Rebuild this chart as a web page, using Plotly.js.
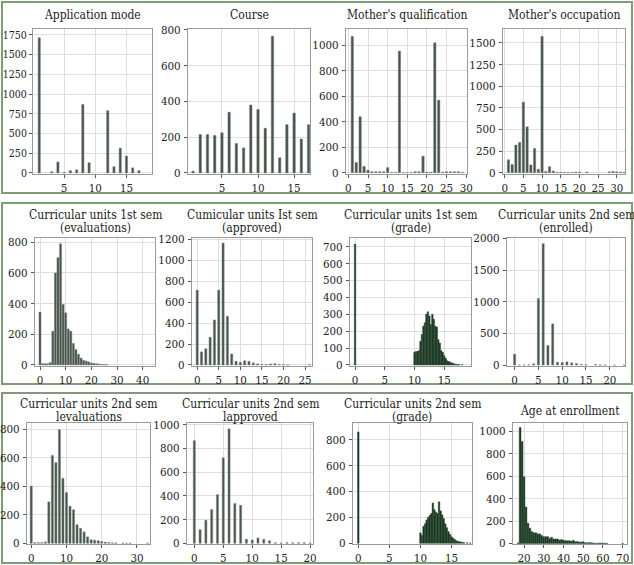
<!DOCTYPE html>
<html>
<head>
<meta charset="utf-8">
<script src="https://cdn.plot.ly/plotly-3.0.1.min.js"></script>
<style>html,body{margin:0;padding:0;background:#fff;}#chart{width:634px;height:565px;}</style>
</head>
<body>
<div id="chart"></div>
<script>
// ---------- data ----------
const appModeX = [1, 3, 4, 5, 6, 7, 8, 9, 12, 13, 14, 15, 16, 17];
const appModeCounts = [1715, 15, 140, 5, 30, 40, 870, 130, 790, 80, 315, 215, 65, 30];

const courseX = [1, 2, 3, 4, 5, 6, 7, 8, 9, 10, 11, 12, 13, 14, 15, 16, 17];
const courseCounts = [10, 215, 215, 210, 225, 340, 165, 140, 380, 355, 250, 765, 85, 270, 335, 190, 270];

const motherQualX = [1, 2, 3, 4, 5, 6, 7, 8, 9, 10, 11, 12, 13, 14, 15, 16, 17, 18, 19, 20, 21, 22, 23, 24, 25, 26, 27, 28, 29];
const motherQualCounts = [1070, 80, 440, 50, 20, 8, 8, 8, 8, 40, 3, 3, 955, 1, 1, 2, 8, 8, 130, 5, 5, 1020, 570, 5, 8, 8, 8, 8, 3];

const motherOccX = [1, 2, 3, 4, 5, 6, 7, 8, 9, 10, 11, 12, 13, 14, 15, 16, 17, 18, 19, 20, 22, 28, 29, 30, 31, 32];
const motherOccCounts = [150, 95, 320, 350, 815, 530, 90, 280, 40, 1575, 15, 70, 20, 5, 5, 2, 2, 2, 8, 8, 8, 10, 15, 10, 8, 5];

const eval1X = [0, 1, 2, 3, 4, 5, 6, 7, 8, 9, 10, 11, 12, 13, 14, 15, 16, 17, 18, 19, 20, 21, 22, 23, 24, 25, 26];
const eval1Counts = [345, 8, 8, 8, 15, 220, 600, 700, 790, 395, 340, 235, 220, 140, 100, 70, 45, 30, 25, 20, 12, 10, 8, 5, 4, 3, 2];

const appr1X = [0, 1, 2, 3, 4, 5, 6, 7, 8, 9, 10, 11, 12, 13, 14, 15, 16, 17, 18, 19, 20, 21, 26];
const appr1Counts = [715, 125, 155, 265, 430, 715, 1165, 465, 105, 35, 25, 40, 35, 20, 10, 5, 3, 10, 12, 3, 2, 1, 1];

const grade1X = [0, 10.0, 10.25, 10.5, 10.75, 11.0, 11.25, 11.5, 11.75, 12.0, 12.25, 12.5, 12.75, 13.0, 13.25, 13.5, 13.75, 14.0, 14.25, 14.5, 14.75, 15.0, 15.25, 15.5, 15.75, 16.0, 16.25, 16.5, 16.75, 17.0, 17.25, 17.5, 18.0];
const grade1Counts = [715, 75, 80, 80, 85, 140, 180, 230, 250, 300, 315, 290, 240, 300, 270, 230, 225, 150, 130, 85, 75, 55, 40, 25, 20, 18, 12, 10, 6, 4, 3, 2, 1];

const enr2X = [0, 1, 2, 3, 4, 5, 6, 7, 8, 9, 10, 11, 12, 13, 14, 15, 17, 18, 19, 21, 23];
const enr2Counts = [170, 2, 2, 3, 20, 1050, 1915, 310, 650, 45, 40, 50, 35, 25, 10, 5, 10, 3, 2, 1, 1];

const eval2X = [0, 1, 2, 3, 4, 5, 6, 7, 8, 9, 10, 11, 12, 13, 14, 15, 16, 17, 18, 19, 20, 21, 22, 23, 24, 26, 27, 28, 33];
const eval2Counts = [400, 5, 5, 5, 10, 290, 615, 565, 795, 455, 355, 260, 235, 130, 105, 80, 45, 25, 22, 18, 12, 8, 5, 3, 3, 2, 1, 1, 1];

const appr2X = [0, 1, 2, 3, 4, 5, 6, 7, 8, 9, 10, 11, 12, 13, 14, 15, 16, 17, 18, 19, 20];
const appr2Counts = [865, 115, 195, 285, 410, 720, 965, 335, 320, 35, 28, 45, 34, 22, 5, 3, 5, 5, 5, 5, 3];

const grade2X = [0, 10.0, 10.25, 10.5, 10.75, 11.0, 11.25, 11.5, 11.75, 12.0, 12.25, 12.5, 12.75, 13.0, 13.25, 13.5, 13.75, 14.0, 14.25, 14.5, 14.75, 15.0, 15.25, 15.5, 15.75, 16.0, 16.25, 16.5, 16.75, 17.0, 17.5, 18.0, 18.5];
const grade2Counts = [860, 80, 60, 130, 150, 180, 200, 215, 230, 310, 260, 240, 230, 320, 250, 220, 190, 150, 120, 90, 70, 50, 40, 30, 20, 15, 12, 10, 6, 5, 3, 2, 1];

const ageX = [17, 18, 19, 20, 21, 22, 23, 24, 25, 26, 27, 28, 29, 30, 31, 32, 33, 34, 35, 36, 37, 38, 39, 40, 41, 42, 43, 44, 45, 46, 47, 48, 49, 50, 51, 52, 53, 54, 55, 56, 57, 58, 59, 60, 61, 62, 70];
const ageCounts = [5, 1035, 910, 595, 325, 180, 135, 105, 95, 95, 85, 85, 70, 60, 60, 60, 45, 55, 40, 40, 40, 30, 35, 28, 25, 24, 24, 20, 28, 15, 17, 12, 13, 15, 7, 5, 7, 6, 5, 1, 2, 3, 3, 2, 1, 1, 1];

// titles: each entry is a list of lines
const panelTitles = [
  ["Application mode"], ["Course"], ["Mother's qualification"], ["Mother's occupation"],
  ["Curricular units 1st sem", "(evaluations)"], ["Cumicular units Ist sem", "(approved)"], ["Curricular units 1st sem", "(grade)"], ["Curricular units 2nd sem", "(enrolled)"],
  ["Curricular units 2nd sem", "levaluations"], ["Curricular units 2nd sem", "lapproved"], ["Curricular units 2nd sem", "(grade)"], ["Age at enrollment"]
];

// ---------- layout geometry ----------
const W = 634, H = 565;
const BAR = '#46534a', BAR_EDGE = '#7d877f', DARK = '#12301a', DARK_EDGE = '#35503b';
const panels = [
  {x: appModeX, y: appModeCounts, box: [33, 152, 29, 174], xr: [0, 19.1], yr: [-13, 1826], xt: [5, 10, 15], yt: [0, 250, 500, 750, 1000, 1250, 1500, 1750], w: 0.36, c: BAR, e: BAR_EDGE, ty: [15], yfs: 10.5},
  {x: courseX, y: courseCounts, box: [188, 310, 29, 174], xr: [0.3, 17.2], yr: [-6, 805], xt: [5, 10, 15], yt: [0, 200, 400, 600, 800], w: 0.34, c: BAR, e: BAR_EDGE, ty: [15]},
  {x: motherQualX, y: motherQualCounts, box: [346, 467, 29, 174], xr: [-0.6, 30.2], yr: [-10, 1128], xt: [0, 5, 10, 15, 20, 25, 30], yt: [0, 200, 400, 600, 800, 1000], w: 0.6, c: BAR, e: BAR_EDGE, ty: [15]},
  {x: motherOccX, y: motherOccCounts, box: [503, 625, 29, 174], xr: [-0.45, 32.2], yr: [-15, 1660], xt: [0, 5, 10, 15, 20, 25, 30], yt: [0, 250, 500, 750, 1000, 1250, 1500], w: 0.62, c: BAR, e: BAR_EDGE, ty: [15]},
  {x: eval1X, y: eval1Counts, box: [35, 155, 238, 366], xr: [-1.95, 44.8], yr: [-7, 828], xt: [0, 10, 20, 30, 40], yt: [0, 200, 400, 600, 800], w: 0.8, c: BAR, e: BAR_EDGE, ty: [215, 228]},
  {x: appr1X, y: appr1Counts, box: [192, 312, 238, 366], xr: [-1.2, 26.6], yr: [-10, 1213], xt: [0, 5, 10, 15, 20, 25], yt: [0, 200, 400, 600, 800, 1000, 1200], w: 0.5, c: BAR, e: BAR_EDGE, ty: [215, 228]},
  {x: grade1X, y: grade1Counts, box: [350, 471, 238, 366], xr: [-0.85, 19.5], yr: [-6, 751], xt: [0, 5, 10, 15], yt: [0, 100, 200, 300, 400, 500, 600, 700], w: 0.25, c: DARK, e: DARK_EDGE, ty: [215, 228]},
  {x: enr2X, y: enr2Counts, box: [507, 625, 238, 366], xr: [-1.6, 23.2], yr: [-15, 2005], xt: [0, 5, 10, 15, 20], yt: [0, 500, 1000, 1500, 2000], w: 0.45, c: BAR, e: BAR_EDGE, ty: [215, 228]},
  {x: eval2X, y: eval2Counts, box: [27, 150, 423, 544], xr: [-1.2, 33.7], yr: [-5, 842], xt: [0, 10, 20, 30], yt: [0, 200, 400, 600, 800], w: 0.6, c: BAR, e: BAR_EDGE, ty: [404, 417]},
  {x: appr2X, y: appr2Counts, box: [187, 313, 423, 544], xr: [-1.26, 20.5], yr: [-6, 1014], xt: [0, 5, 10, 15, 20], yt: [0, 200, 400, 600, 800, 1000], w: 0.36, c: BAR, e: BAR_EDGE, ty: [404, 417]},
  {x: grade2X, y: grade2Counts, box: [353, 472, 423, 544], xr: [-0.85, 18.3], yr: [-6, 929], xt: [0, 5, 10, 15], yt: [0, 200, 400, 600, 800], w: 0.25, c: DARK, e: DARK_EDGE, ty: [404, 417]},
  {x: ageX, y: ageCounts, box: [513, 627, 423, 544], xr: [14.4, 72.2], yr: [-5, 1075], xt: [20, 30, 40, 50, 60, 70], yt: [0, 200, 400, 600, 800, 1000], w: 0.9, c: DARK, e: DARK_EDGE, ty: [411]}
];

const FAMILY = 'DejaVu Serif Condensed, DejaVu Serif, serif';
const traces = [];
const layout = {
  width: W, height: H,
  margin: {l: 0, r: 0, t: 0, b: 0},
  paper_bgcolor: '#ffffff', plot_bgcolor: '#ffffff',
  showlegend: false, bargap: 0,
  font: {family: FAMILY, size: 12, color: '#222'},
  annotations: [], shapes: []
};

panels.forEach((p, i) => {
  const n = i + 1;
  const xa = 'x' + (n === 1 ? '' : n), ya = 'y' + (n === 1 ? '' : n);
  traces.push({
    type: 'bar', x: p.x, y: p.y, xaxis: xa, yaxis: ya,
    width: p.w,
    marker: {color: p.c, line: {color: p.e, width: 0.5}},
    hoverinfo: 'x+y'
  });
  const [l, r, t, b] = p.box;
  const axCommon = {
    showgrid: true, gridcolor: '#dedede', gridwidth: 1,
    showline: true, linecolor: '#9a9a9a', linewidth: 1, mirror: true,
    ticks: 'outside', ticklen: 3, tickcolor: '#555',
    zeroline: false, tickfont: {family: FAMILY, size: 11.5, color: '#222'}
  };
  layout['xaxis' + (n === 1 ? '' : n)] = Object.assign({}, axCommon, {
    domain: [l / W, r / W], range: p.xr, tickmode: 'array', tickvals: p.xt, anchor: ya
  });
  layout['yaxis' + (n === 1 ? '' : n)] = Object.assign({}, axCommon, {
    domain: [1 - b / H, 1 - t / H], range: p.yr, tickmode: 'array', tickvals: p.yt, anchor: xa,
    ticklabelstandoff: p.yfs ? 0 : 1,
    tickfont: {family: FAMILY, size: p.yfs || 11.5, color: '#222'}
  });
  panelTitles[i].forEach((line, k) => {
    layout.annotations.push({
      text: line, xref: 'paper', yref: 'paper',
      x: ((l + r) / 2) / W, y: 1 - p.ty[k] / H,
      xanchor: 'center', yanchor: 'middle', showarrow: false,
      font: {family: FAMILY, size: 12, color: '#222'}
    });
  });
});

// row frames
const rows = [[2, 2, 632, 193], [2, 203, 632, 384], [2, 393, 632, 563]];
rows.forEach(rw => {
  layout.shapes.push({
    type: 'rect', xref: 'paper', yref: 'paper',
    x0: rw[0] / W, x1: rw[2] / W, y0: 1 - rw[3] / H, y1: 1 - rw[1] / H,
    line: {color: '#7f9c78', width: 2}, fillcolor: 'rgba(0,0,0,0)', layer: 'below'
  });
});

Plotly.newPlot('chart', traces, layout, {displayModeBar: false, staticPlot: true});
</script>
</body>
</html>
